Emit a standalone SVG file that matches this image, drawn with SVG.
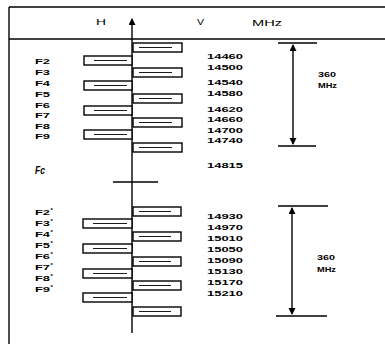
<svg xmlns="http://www.w3.org/2000/svg" width="385" height="344" viewBox="0 0 385 344">
<defs>
<style>
.ln{stroke:#000;stroke-width:1.4;fill:none}
.bx{stroke:#000;stroke-width:1.4;fill:#fff}
.in{stroke:#000;stroke-width:0.9}
.t{font-family:"Liberation Sans",Arial,sans-serif;font-weight:bold;font-size:8px;fill:#000}
.s{font-family:"Liberation Sans",Arial,sans-serif;font-weight:bold;font-size:6px;fill:#000}
.fc{font-family:"Liberation Sans",Arial,sans-serif;font-weight:bold;font-style:italic;font-size:10px;fill:#000}
.h{font-family:"Liberation Sans",Arial,sans-serif;font-size:9.5px;fill:#000}
</style>
<marker id="ah" markerWidth="8" markerHeight="8" refX="6" refY="3.5" orient="auto-start-reverse" markerUnits="userSpaceOnUse">
<path d="M0,0 L7,3.5 L0,7 Z" fill="#000"/>
</marker>
</defs>
<rect width="385" height="344" fill="#fff"/>
<g id="frame">
<line class="ln" x1="9" y1="7" x2="385" y2="7"/>
<line class="ln" x1="9" y1="39" x2="385" y2="39"/>
<line class="ln" x1="9" y1="7" x2="9" y2="344"/>
</g>
<g id="header">
<text class="h" x="96" y="25" textLength="10" lengthAdjust="spacingAndGlyphs">H</text>
<text class="h" x="197" y="25" textLength="7" lengthAdjust="spacingAndGlyphs">V</text>
<text class="h" x="252" y="26" textLength="30" lengthAdjust="spacingAndGlyphs">MHz</text>
</g>
<g id="connectors">
<line class="ln" x1="132" y1="19" x2="132" y2="333" marker-start="url(#ah)"/>
<line class="ln" x1="113" y1="182" x2="158" y2="182"/>
<line class="ln" x1="278" y1="43" x2="317" y2="43"/>
<line class="ln" x1="278" y1="146" x2="316" y2="146"/>
<line class="ln" x1="293" y1="45" x2="293" y2="144" marker-start="url(#ah)" marker-end="url(#ah)"/>
<line class="ln" x1="278" y1="206" x2="328" y2="206"/>
<line class="ln" x1="276" y1="316" x2="327" y2="316"/>
<line class="ln" x1="292" y1="208" x2="292" y2="314" marker-start="url(#ah)" marker-end="url(#ah)"/>
</g>
<g id="upper-v">
<rect class="bx" x="133" y="43" width="49" height="9"/><line class="in" x1="139" y1="47.5" x2="172" y2="47.5"/>
<rect class="bx" x="133" y="68" width="49" height="9"/><line class="in" x1="139" y1="72.5" x2="172" y2="72.5"/>
<rect class="bx" x="133" y="94" width="49" height="9"/><line class="in" x1="139" y1="98.5" x2="172" y2="98.5"/>
<rect class="bx" x="133" y="118" width="49" height="9"/><line class="in" x1="139" y1="122.5" x2="172" y2="122.5"/>
<rect class="bx" x="133" y="143" width="49" height="9"/><line class="in" x1="139" y1="147.5" x2="172" y2="147.5"/>
</g>
<g id="upper-h">
<rect class="bx" x="84" y="56" width="48" height="9"/><line class="in" x1="94" y1="60.5" x2="127" y2="60.5"/>
<rect class="bx" x="84" y="81" width="48" height="9"/><line class="in" x1="94" y1="85.5" x2="127" y2="85.5"/>
<rect class="bx" x="84" y="106" width="48" height="9"/><line class="in" x1="94" y1="110.5" x2="127" y2="110.5"/>
<rect class="bx" x="84" y="130" width="48" height="9"/><line class="in" x1="94" y1="134.5" x2="127" y2="134.5"/>
</g>
<g id="lower-v">
<rect class="bx" x="133" y="207" width="48" height="9"/><line class="in" x1="139" y1="211.5" x2="171" y2="211.5"/>
<rect class="bx" x="133" y="232" width="48" height="9"/><line class="in" x1="139" y1="236.5" x2="171" y2="236.5"/>
<rect class="bx" x="133" y="257" width="48" height="9"/><line class="in" x1="139" y1="261.5" x2="171" y2="261.5"/>
<rect class="bx" x="133" y="281" width="48" height="9"/><line class="in" x1="139" y1="285.5" x2="171" y2="285.5"/>
<rect class="bx" x="133" y="307" width="48" height="9"/><line class="in" x1="139" y1="311.5" x2="171" y2="311.5"/>
</g>
<g id="lower-h">
<rect class="bx" x="83" y="219" width="49" height="9"/><line class="in" x1="93" y1="223.5" x2="127" y2="223.5"/>
<rect class="bx" x="83" y="244" width="49" height="9"/><line class="in" x1="93" y1="248.5" x2="127" y2="248.5"/>
<rect class="bx" x="83" y="269" width="49" height="9"/><line class="in" x1="93" y1="273.5" x2="127" y2="273.5"/>
<rect class="bx" x="83" y="293" width="49" height="9"/><line class="in" x1="93" y1="297.5" x2="127" y2="297.5"/>
</g>
<g id="labels-upper">
<text class="t" x="35" y="64" textLength="15" lengthAdjust="spacingAndGlyphs">F2</text>
<text class="t" x="35" y="74.5" textLength="15" lengthAdjust="spacingAndGlyphs">F3</text>
<text class="t" x="35" y="85.5" textLength="15" lengthAdjust="spacingAndGlyphs">F4</text>
<text class="t" x="35" y="97" textLength="15" lengthAdjust="spacingAndGlyphs">F5</text>
<text class="t" x="35" y="107.5" textLength="15" lengthAdjust="spacingAndGlyphs">F6</text>
<text class="t" x="35" y="118" textLength="15" lengthAdjust="spacingAndGlyphs">F7</text>
<text class="t" x="35" y="129" textLength="15" lengthAdjust="spacingAndGlyphs">F8</text>
<text class="t" x="35" y="139" textLength="15" lengthAdjust="spacingAndGlyphs">F9</text>
</g>
<g id="label-fc">
<text class="fc" x="35" y="174" textLength="10" lengthAdjust="spacingAndGlyphs">Fc</text>
</g>
<g id="labels-lower">
<text class="t" x="35" y="215" textLength="15" lengthAdjust="spacingAndGlyphs">F2</text><text class="s" x="50.5" y="212">*</text>
<text class="t" x="35" y="226" textLength="15" lengthAdjust="spacingAndGlyphs">F3</text><text class="s" x="50.5" y="223">*</text>
<text class="t" x="35" y="237" textLength="15" lengthAdjust="spacingAndGlyphs">F4</text><text class="s" x="50.5" y="234">*</text>
<text class="t" x="35" y="248" textLength="15" lengthAdjust="spacingAndGlyphs">F5</text><text class="s" x="50.5" y="245">*</text>
<text class="t" x="35" y="259" textLength="15" lengthAdjust="spacingAndGlyphs">F6</text><text class="s" x="50.5" y="256">*</text>
<text class="t" x="35" y="270" textLength="15" lengthAdjust="spacingAndGlyphs">F7</text><text class="s" x="50.5" y="267">*</text>
<text class="t" x="35" y="281" textLength="15" lengthAdjust="spacingAndGlyphs">F8</text><text class="s" x="50.5" y="278">*</text>
<text class="t" x="35" y="292" textLength="15" lengthAdjust="spacingAndGlyphs">F9</text><text class="s" x="50.5" y="289">*</text>
</g>
<g id="freq-upper">
<text class="t" x="207" y="59" textLength="36" lengthAdjust="spacingAndGlyphs">14460</text>
<text class="t" x="207" y="70" textLength="36" lengthAdjust="spacingAndGlyphs">14500</text>
<text class="t" x="207" y="85" textLength="36" lengthAdjust="spacingAndGlyphs">14540</text>
<text class="t" x="207" y="96" textLength="36" lengthAdjust="spacingAndGlyphs">14580</text>
<text class="t" x="207" y="112" textLength="36" lengthAdjust="spacingAndGlyphs">14620</text>
<text class="t" x="207" y="122" textLength="36" lengthAdjust="spacingAndGlyphs">14660</text>
<text class="t" x="207" y="133" textLength="36" lengthAdjust="spacingAndGlyphs">14700</text>
<text class="t" x="207" y="143" textLength="36" lengthAdjust="spacingAndGlyphs">14740</text>
<text class="t" x="207" y="168" textLength="36" lengthAdjust="spacingAndGlyphs">14815</text>
</g>
<g id="freq-lower">
<text class="t" x="207" y="219" textLength="36" lengthAdjust="spacingAndGlyphs">14930</text>
<text class="t" x="207" y="230" textLength="36" lengthAdjust="spacingAndGlyphs">14970</text>
<text class="t" x="207" y="241" textLength="36" lengthAdjust="spacingAndGlyphs">15010</text>
<text class="t" x="207" y="252" textLength="36" lengthAdjust="spacingAndGlyphs">15050</text>
<text class="t" x="207" y="263" textLength="36" lengthAdjust="spacingAndGlyphs">15090</text>
<text class="t" x="207" y="274" textLength="36" lengthAdjust="spacingAndGlyphs">15130</text>
<text class="t" x="207" y="285" textLength="36" lengthAdjust="spacingAndGlyphs">15170</text>
<text class="t" x="207" y="296" textLength="36" lengthAdjust="spacingAndGlyphs">15210</text>
</g>
<g id="span-upper">
<text class="t" x="318" y="77" textLength="18" lengthAdjust="spacingAndGlyphs">360</text>
<text class="t" x="318" y="88" textLength="19" lengthAdjust="spacingAndGlyphs">MHz</text>
</g>
<g id="span-lower">
<text class="t" x="317" y="260" textLength="18" lengthAdjust="spacingAndGlyphs">360</text>
<text class="t" x="317" y="272" textLength="19" lengthAdjust="spacingAndGlyphs">MHz</text>
</g>
</svg>
